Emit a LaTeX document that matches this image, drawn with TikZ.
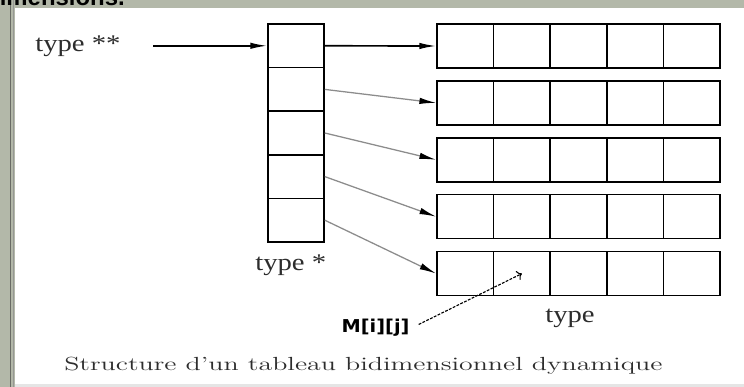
\documentclass[tikz,border=0pt]{standalone}
\usepackage{fontspec}
\newfontfamily\timesfont{Liberation Serif}
\newfontfamily\mijfont{DejaVu Sans}
\newfontfamily\headfont{Liberation Sans}
\usetikzlibrary{arrows.meta}
\definecolor{bandgray}{RGB}{179,184,169}
\definecolor{edgegray}{RGB}{105,107,100}
\definecolor{txtgray}{RGB}{45,45,45}
\definecolor{ptrgray}{RGB}{140,140,140}

\begin{document}
\begin{tikzpicture}[x=0.025cm, y=0.025cm,
  cell/.style={draw, line width=1.1pt, inner sep=0pt, minimum width=1.415cm, minimum height=1.1cm},
  slot/.style={cell, minimum width=1.4cm, minimum height=1.09cm},
  lbl/.style={anchor=base west, inner sep=0pt, text=txtgray, font=\timesfont\fontsize{17}{20}\selectfont},
  ptr/.style={line width=0.9pt, ptrgray, -{Latex[length=0.42cm, width=0.16cm, black]}}]
  \useasboundingbox (0,0) rectangle (744,387);
  \clip (0,0) rectangle (744,387);

  % slide frame
  \fill[bandgray] (0,0) rectangle (744,387);
  \fill[gray!20] (15,0) rectangle (744,3);
  \fill[white] (15,3) rectangle (744,379);
  \draw[edgegray, line width=1.4pt] (10.5,0) -- (10.5,387);
  \draw[edgegray!70, line width=0.8pt] (13.5,0) -- (13.5,387);
  \node[anchor=base east, inner sep=0pt, font=\headfont\bfseries\fontsize{17}{20}\selectfont] (head) at (125,381) {dimensions.};

  % column of pointers
  \foreach \i in {1,...,5}
    \node[slot] (p\i) at (296, {363-43.6*(\i-0.5)}) {};

  % the rows
  \foreach \i in {1,...,5}
    \foreach \j in {1,...,5}
      \node[cell] (r\i-\j) at ({437+56.6*(\j-0.5)}, {341-56.9*(\i-1)}) {};

  % labels
  \node[lbl] (tpp) at (35,335) {\scalebox{1.2}[1]{type **}};
  \node[lbl] (tp) at (255,116.5) {\scalebox{1.2}[1]{type *}};
  \node[lbl] (t) at (545,64) {\scalebox{1.2}[1]{type}};
  \node[anchor=base west, inner sep=1pt, font=\mijfont\bfseries\fontsize{12.6}{15}\selectfont] (mij) at (340,54) {\scalebox{1.09}[1]{M[i][j]}};
  \node[anchor=base west, inner sep=0pt, text=txtgray, font=\fontsize{13.5}{16}\selectfont] (cap) at (64,16)
    {\scalebox{1.47}[1]{Structure d'un tableau bidimensionnel dynamique}};

  % arrows
  \coordinate (tail) at (153,341.2);
  \draw[line width=1.2pt, -{Latex[length=0.42cm, width=0.16cm]}] (tail) -- (p1.west);
  \draw[line width=1.2pt, -{Latex[length=0.42cm, width=0.16cm]}] (p1.east) -- (r1-1.west);
  \foreach \i in {2,...,5}
    \draw[ptr] (p\i.east) -- (r\i-1.west);
  \draw[dashed, dash pattern=on 2pt off 1pt, line width=0.8pt, ->, shorten <=6pt] (mij.east) -- (r5-2.center);
\end{tikzpicture}
\end{document}
